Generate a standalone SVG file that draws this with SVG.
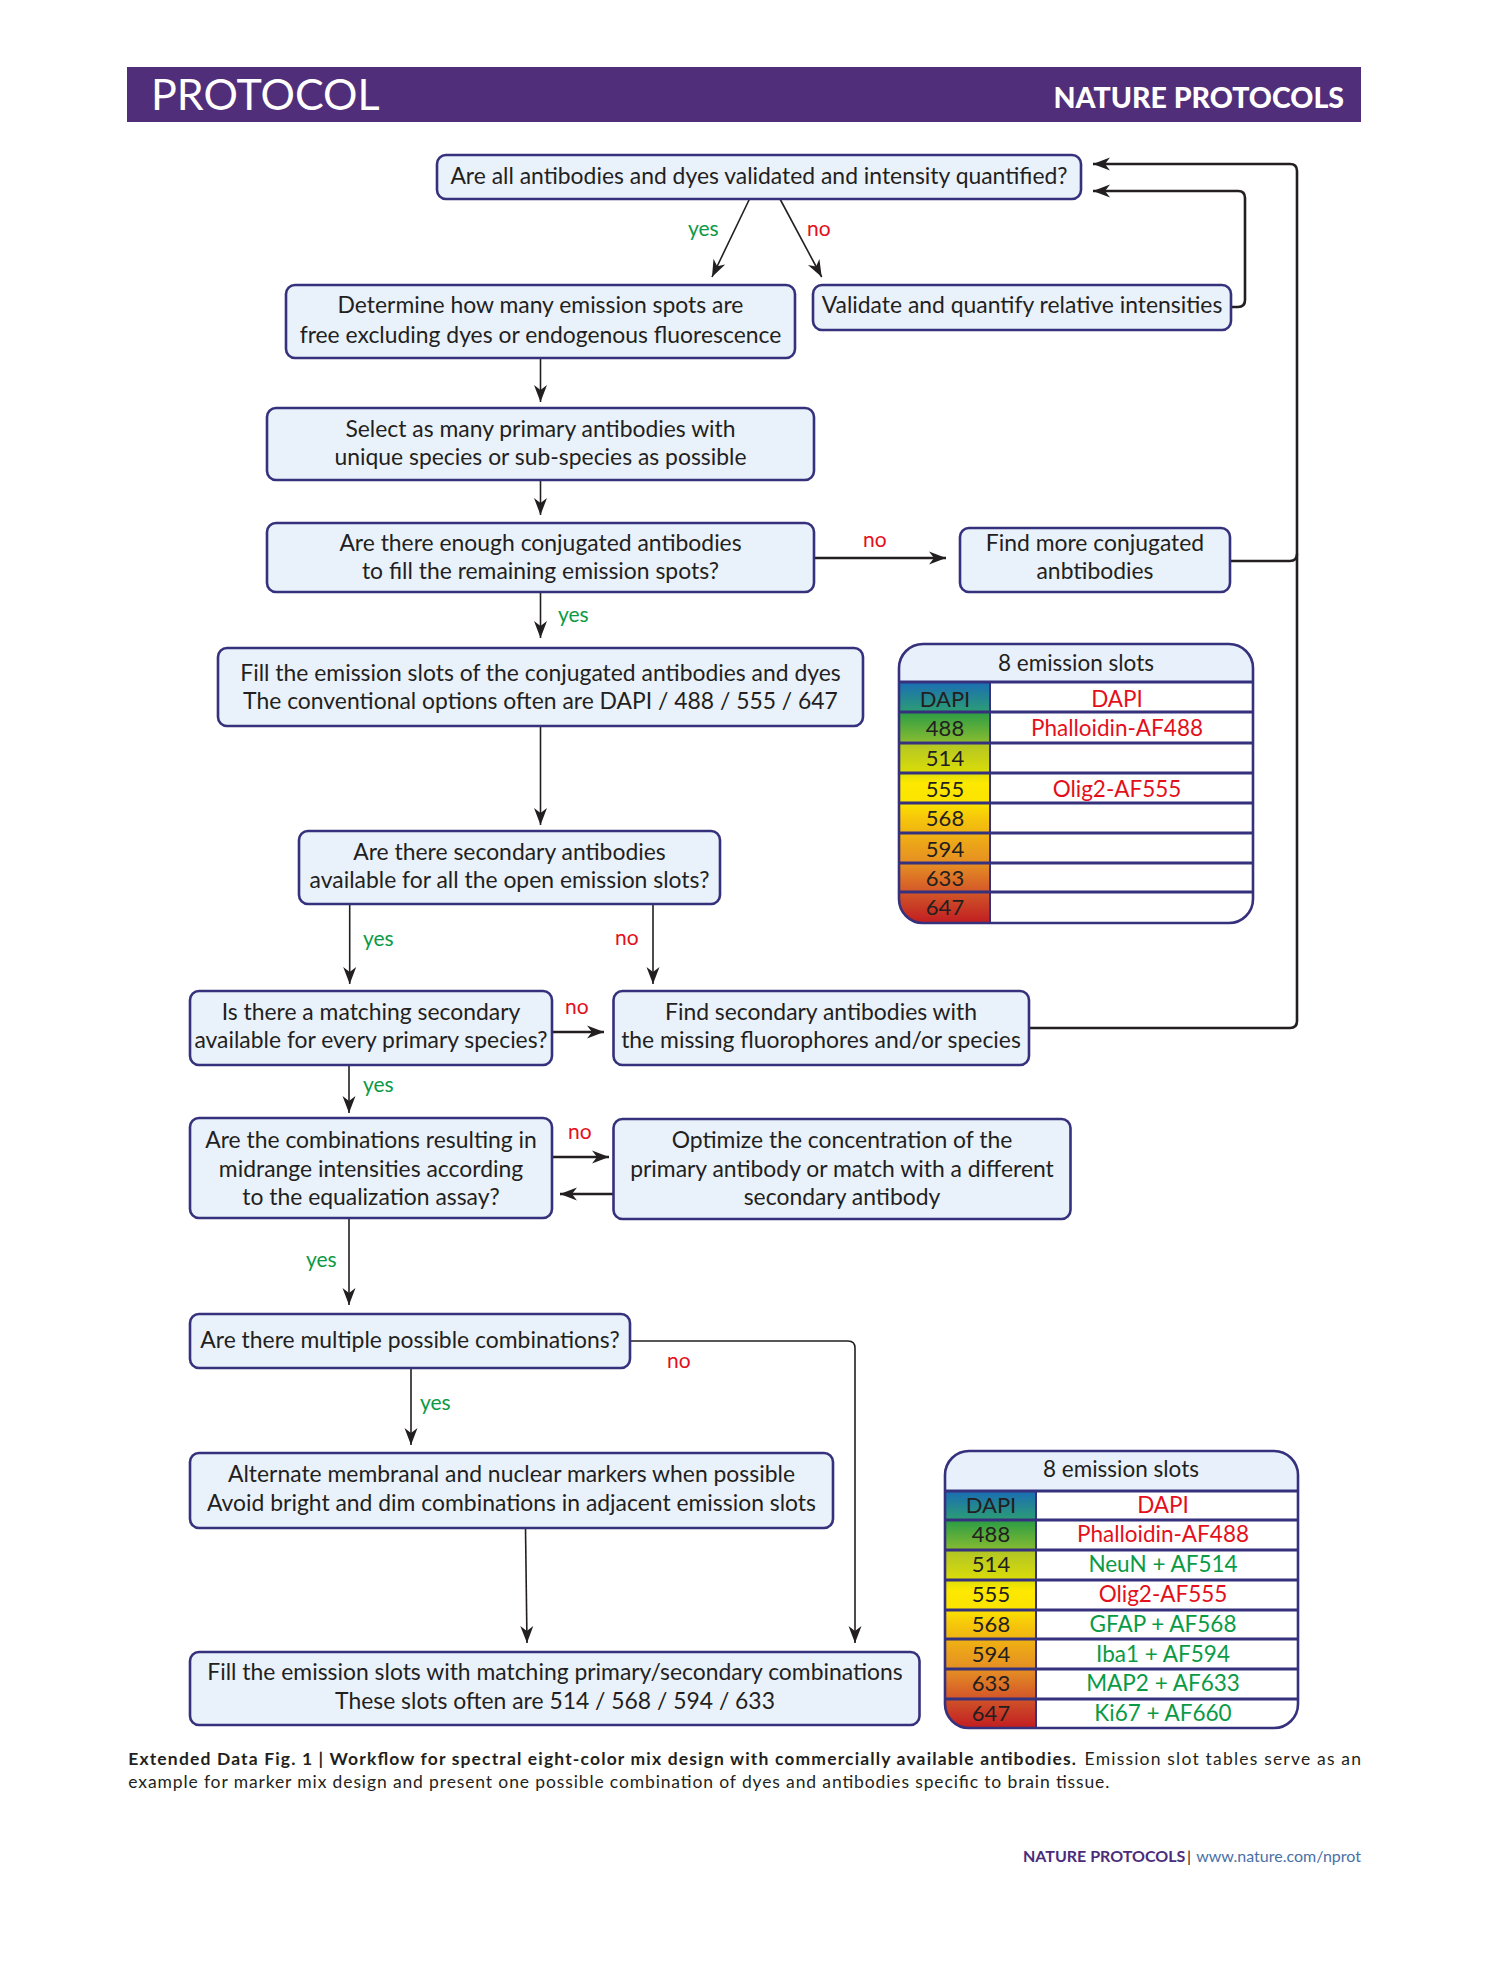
<svg xmlns="http://www.w3.org/2000/svg" width="1489" height="1978" viewBox="0 0 1489 1978">
<style>
text{font-family:Lato,"Open Sans","Liberation Sans",sans-serif;fill:#231f20}
.bx{fill:#e9f1fb;stroke:#36317c;stroke-width:2.6}
.t{font-size:22.9px;text-anchor:middle}
.y{font-size:21px;fill:#0a9a45}
.n{font-size:21px;fill:#e3101b}
.ln{fill:none;stroke:#231f20;stroke-width:1.6}
.lt{fill:none;stroke:#231f20;stroke-width:2.6}
.row{stroke:#36317c;stroke-width:3}
.th{font-size:22.5px;text-anchor:middle}
.tc{font-size:22px;text-anchor:middle}
.tr{font-size:22.5px;text-anchor:middle}
.r{fill:#e3101b}
.g{fill:#0a9a45}
</style>
<defs>
<marker id="ah" viewBox="-18 -8 19 16" refX="0" refY="0" markerWidth="19" markerHeight="16" markerUnits="userSpaceOnUse" orient="auto">
<path d="M0,0 L-17,-6.5 L-12,0 L-17,6.5 Z" fill="#231f20"/>
</marker>
<linearGradient id="spec" x1="0" y1="0" x2="0" y2="1">
<stop offset="0" stop-color="#1a6db5"/>
<stop offset="0.115" stop-color="#2b9a78"/>
<stop offset="0.13" stop-color="#2f9e45"/>
<stop offset="0.24" stop-color="#80b932"/>
<stop offset="0.26" stop-color="#b3c623"/>
<stop offset="0.37" stop-color="#d9dc0a"/>
<stop offset="0.42" stop-color="#fde800"/>
<stop offset="0.5" stop-color="#fbe400"/>
<stop offset="0.56" stop-color="#f6c80a"/>
<stop offset="0.68" stop-color="#eba21a"/>
<stop offset="0.76" stop-color="#e48c24"/>
<stop offset="0.86" stop-color="#d65c28"/>
<stop offset="0.9" stop-color="#cc4a27"/>
<stop offset="1" stop-color="#c21d21"/>
</linearGradient>
<clipPath id="c1"><rect x="899" y="644" width="354" height="279" rx="24"/></clipPath>
<clipPath id="c2"><rect x="945" y="1451" width="353" height="277" rx="24"/></clipPath>
</defs>

<g id="banner">
<rect x="127" y="67" width="1234" height="55" fill="#512e79"/>
<text x="151" y="109.5" style="font-size:43px;fill:#fff">PROTOCOL</text>
<text x="1344" y="107.7" style="font-size:28.5px;font-weight:900;fill:#fff;text-anchor:end">NATURE PROTOCOLS</text>
</g>

<g id="connectors">
<line class="ln" x1="749.5" y1="199" x2="712" y2="277" marker-end="url(#ah)"/>
<line class="ln" x1="780" y1="199" x2="821.7" y2="277" marker-end="url(#ah)"/>
<path class="lt" d="M1231,307 H1238 Q1245,307 1245,300 V198 Q1245,191 1238,191 H1093" marker-end="url(#ah)"/>
<path class="lt" d="M1230,561 H1290 Q1297,561 1297,554 V171 Q1297,164 1290,164 H1093" marker-end="url(#ah)"/>
<path class="lt" d="M1029,1028 H1290 Q1297,1028 1297,1021 V554"/>
<line class="ln" x1="540.5" y1="358" x2="540.5" y2="402" marker-end="url(#ah)"/>
<line class="ln" x1="540.5" y1="480" x2="540.5" y2="515" marker-end="url(#ah)"/>
<line class="lt" x1="814" y1="558" x2="946" y2="558" marker-end="url(#ah)"/>
<line class="ln" x1="540.5" y1="592" x2="540.5" y2="638" marker-end="url(#ah)"/>
<line class="ln" x1="540.5" y1="726" x2="540.5" y2="825" marker-end="url(#ah)"/>
<line class="ln" x1="349.7" y1="904" x2="349.7" y2="984" marker-end="url(#ah)"/>
<line class="ln" x1="653" y1="904" x2="653" y2="984" marker-end="url(#ah)"/>
<line class="lt" x1="552" y1="1032" x2="604" y2="1032" marker-end="url(#ah)"/>
<line class="ln" x1="349" y1="1065" x2="349" y2="1113" marker-end="url(#ah)"/>
<line class="lt" x1="552" y1="1157" x2="609" y2="1157" marker-end="url(#ah)"/>
<line class="lt" x1="613" y1="1194" x2="560" y2="1194" marker-end="url(#ah)"/>
<line class="ln" x1="349" y1="1218" x2="349" y2="1305" marker-end="url(#ah)"/>
<line class="ln" x1="411" y1="1368" x2="411" y2="1445" marker-end="url(#ah)"/>
<path class="ln" d="M630,1341 H848 Q855,1341 855,1348 V1643" marker-end="url(#ah)"/>
<line class="ln" x1="525.5" y1="1528" x2="527" y2="1643" marker-end="url(#ah)"/>
<text class="y" x="688" y="236">yes</text>
<text class="n" x="807" y="236">no</text>
<text class="n" x="863" y="547">no</text>
<text class="y" x="558" y="622">yes</text>
<text class="y" x="363" y="946">yes</text>
<text class="n" x="615" y="945">no</text>
<text class="n" x="565" y="1014">no</text>
<text class="y" x="363" y="1092">yes</text>
<text class="n" x="568" y="1139">no</text>
<text class="y" x="306" y="1267">yes</text>
<text class="y" x="420" y="1410">yes</text>
<text class="n" x="667" y="1368">no</text>
</g>

<g id="n1"><rect class="bx" x="437" y="155" width="644" height="44" rx="9"/>
<text class="t" x="759" y="184.3">Are all antibodies and dyes validated and intensity quantified?</text></g>
<g id="n2"><rect class="bx" x="286" y="285" width="509" height="73" rx="9"/>
<text class="t" x="540.5" y="313.3">Determine how many emission spots are</text>
<text class="t" x="540.5" y="342.7">free excluding dyes or endogenous fluorescence</text></g>
<g id="n3"><rect class="bx" x="813" y="285" width="418" height="45" rx="9"/>
<text class="t" x="1022" y="313.3">Validate and quantify relative intensities</text></g>
<g id="n4"><rect class="bx" x="267" y="408" width="547" height="72" rx="9"/>
<text class="t" x="540.5" y="436.7">Select as many primary antibodies with</text>
<text class="t" x="540.5" y="465">unique species or sub-species as possible</text></g>
<g id="n5"><rect class="bx" x="267" y="523" width="547" height="69" rx="9"/>
<text class="t" x="540.5" y="550.7">Are there enough conjugated antibodies</text>
<text class="t" x="540.5" y="579">to fill the remaining emission spots?</text></g>
<g id="n6"><rect class="bx" x="960" y="528" width="270" height="64" rx="9"/>
<text class="t" x="1095" y="550.7">Find more conjugated</text>
<text class="t" x="1095" y="579">anbtibodies</text></g>
<g id="n7"><rect class="bx" x="218" y="648" width="645" height="78" rx="9"/>
<text class="t" x="540.5" y="681">Fill the emission slots of the conjugated antibodies and dyes</text>
<text class="t" x="540.5" y="709.3">The conventional options often are DAPI / 488 / 555 / 647</text></g>
<g id="n8"><rect class="bx" x="299" y="831" width="421" height="73" rx="9"/>
<text class="t" x="509.5" y="860">Are there secondary antibodies</text>
<text class="t" x="509.5" y="888.3">available for all the open emission slots?</text></g>
<g id="n10"><rect class="bx" x="190" y="991" width="362" height="74" rx="9"/>
<text class="t" x="371" y="1020">Is there a matching secondary</text>
<text class="t" x="371" y="1048.3">available for every primary species?</text></g>
<g id="n11"><rect class="bx" x="613.5" y="991" width="415.5" height="74" rx="9"/>
<text class="t" x="821" y="1020">Find secondary antibodies with</text>
<text class="t" x="821" y="1048.3">the missing fluorophores and/or species</text></g>
<g id="n12"><rect class="bx" x="190" y="1118" width="362" height="100" rx="9"/>
<text class="t" x="371" y="1148.3">Are the combinations resulting in</text>
<text class="t" x="371" y="1176.7">midrange intensities according</text>
<text class="t" x="371" y="1205">to the equalization assay?</text></g>
<g id="n13"><rect class="bx" x="613.5" y="1119" width="457" height="100" rx="9"/>
<text class="t" x="842" y="1148.3">Optimize the concentration of the</text>
<text class="t" x="842" y="1176.7">primary antibody or match with a different</text>
<text class="t" x="842" y="1205">secondary antibody</text></g>
<g id="n14"><rect class="bx" x="190" y="1314" width="440" height="54" rx="9"/>
<text class="t" x="410" y="1348.3">Are there multiple possible combinations?</text></g>
<g id="n15"><rect class="bx" x="190" y="1453" width="643" height="75" rx="9"/>
<text class="t" x="511.5" y="1482.3">Alternate membranal and nuclear markers when possible</text>
<text class="t" x="511.5" y="1510.7">Avoid bright and dim combinations in adjacent emission slots</text></g>
<g id="n16"><rect class="bx" x="190" y="1652" width="729.5" height="73" rx="9"/>
<text class="t" x="555" y="1680">Fill the emission slots with matching primary/secondary combinations</text>
<text class="t" x="555" y="1709">These slots often are 514 / 568 / 594 / 633</text></g>

<g id="table1">
<g clip-path="url(#c1)">
<rect x="899" y="644" width="354" height="38" fill="#e8f1fb"/>
<rect x="899" y="682" width="91" height="241" fill="url(#spec)"/>
<rect x="990" y="682" width="263" height="241" fill="#fff"/>
<line x1="990" y1="682" x2="990" y2="923" stroke="#36317c" stroke-width="2"/>
<line class="row" x1="899" y1="682" x2="1253" y2="682"/>
<line class="row" x1="899" y1="712" x2="1253" y2="712"/>
<line class="row" x1="899" y1="743" x2="1253" y2="743"/>
<line class="row" x1="899" y1="773" x2="1253" y2="773"/>
<line class="row" x1="899" y1="803" x2="1253" y2="803"/>
<line class="row" x1="899" y1="833" x2="1253" y2="833"/>
<line class="row" x1="899" y1="863" x2="1253" y2="863"/>
<line class="row" x1="899" y1="892" x2="1253" y2="892"/>
</g>
<rect x="899" y="644" width="354" height="279" rx="24" fill="none" stroke="#36317c" stroke-width="2.6"/>
<text class="th" x="1076" y="670.7">8 emission slots</text>
<text class="tc" x="945" y="706.7">DAPI</text>
<text class="tc" x="945" y="736">488</text>
<text class="tc" x="945" y="766">514</text>
<text class="tc" x="945" y="796.7">555</text>
<text class="tc" x="945" y="825.7">568</text>
<text class="tc" x="945" y="856.7">594</text>
<text class="tc" x="945" y="886">633</text>
<text class="tc" x="945" y="915">647</text>
<text class="tr r" x="1117" y="706.7">DAPI</text>
<text class="tr r" x="1117" y="736">Phalloidin-AF488</text>
<text class="tr r" x="1117" y="796.7">Olig2-AF555</text>
</g>

<g id="table2">
<g clip-path="url(#c2)">
<rect x="945" y="1451" width="353" height="40" fill="#e8f1fb"/>
<rect x="945" y="1491" width="91" height="237" fill="url(#spec)"/>
<rect x="1036" y="1491" width="262" height="237" fill="#fff"/>
<line x1="1036" y1="1491" x2="1036" y2="1728" stroke="#36317c" stroke-width="2"/>
<line class="row" x1="945" y1="1491" x2="1298" y2="1491"/>
<line class="row" x1="945" y1="1520" x2="1298" y2="1520"/>
<line class="row" x1="945" y1="1550" x2="1298" y2="1550"/>
<line class="row" x1="945" y1="1580" x2="1298" y2="1580"/>
<line class="row" x1="945" y1="1610" x2="1298" y2="1610"/>
<line class="row" x1="945" y1="1639" x2="1298" y2="1639"/>
<line class="row" x1="945" y1="1669" x2="1298" y2="1669"/>
<line class="row" x1="945" y1="1699" x2="1298" y2="1699"/>
</g>
<rect x="945" y="1451" width="353" height="277" rx="24" fill="none" stroke="#36317c" stroke-width="2.6"/>
<text class="th" x="1121" y="1476.7">8 emission slots</text>
<text class="tc" x="991" y="1512.7">DAPI</text>
<text class="tc" x="991" y="1541.7">488</text>
<text class="tc" x="991" y="1572">514</text>
<text class="tc" x="991" y="1602">555</text>
<text class="tc" x="991" y="1632">568</text>
<text class="tc" x="991" y="1662">594</text>
<text class="tc" x="991" y="1691">633</text>
<text class="tc" x="991" y="1721">647</text>
<text class="tr r" x="1163" y="1512.7">DAPI</text>
<text class="tr r" x="1163" y="1541.7">Phalloidin-AF488</text>
<text class="tr g" x="1163" y="1572">NeuN + AF514</text>
<text class="tr r" x="1163" y="1602">Olig2-AF555</text>
<text class="tr g" x="1163" y="1632">GFAP + AF568</text>
<text class="tr g" x="1163" y="1662">Iba1 + AF594</text>
<text class="tr g" x="1163" y="1691">MAP2 + AF633</text>
<text class="tr g" x="1163" y="1721">Ki67 + AF660</text>
</g>

<g id="caption">
<text x="128.3" y="1765" textLength="947.7" lengthAdjust="spacing" style="font-size:17.5px;font-weight:bold">Extended Data Fig. 1 | Workflow for spectral eight-color mix design with commercially available antibodies.</text>
<text x="1084.6" y="1765" textLength="276.4" lengthAdjust="spacing" style="font-size:17.5px">Emission slot tables serve as an</text>
<text x="128.3" y="1788" textLength="981" lengthAdjust="spacing" style="font-size:17.5px">example for marker mix design and present one possible combination of dyes and antibodies specific to brain tissue.</text>
</g>

<g id="footer">
<text x="1023" y="1862" style="font-size:16px;font-weight:bold;fill:#4b2c7a">NATURE PROTOCOLS</text>
<text x="1187" y="1862" style="font-size:16px;fill:#231f20">|</text>
<text x="1361" y="1862" style="font-size:16px;fill:#4a70a8;text-anchor:end">www.nature.com/nprot</text>
</g>
</svg>
